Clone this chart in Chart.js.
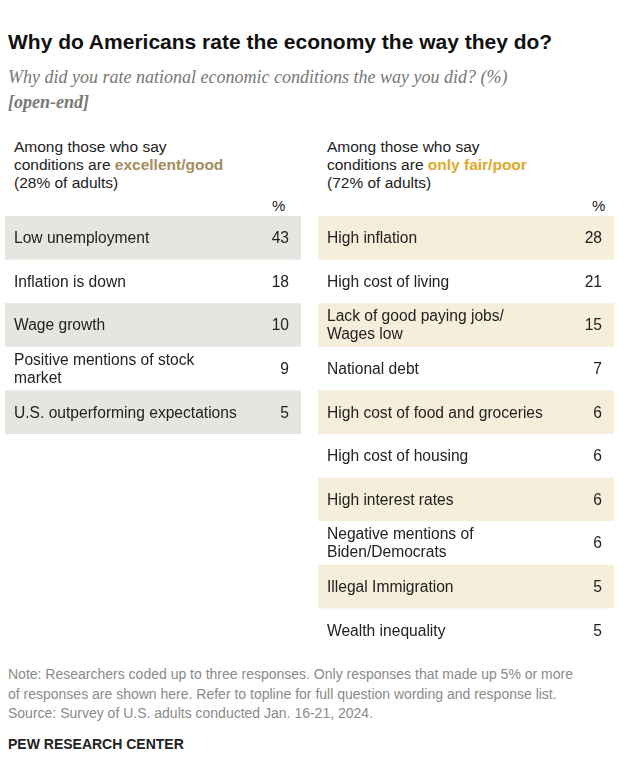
<!DOCTYPE html>
<html><head><meta charset="utf-8">
<script src="https://cdn.jsdelivr.net/npm/chart.js@4"></script>
<style>
body{margin:0;background:#fff;font-family:"Liberation Sans",Arial,sans-serif;color:#222;width:638px;height:768px;position:relative;overflow:hidden}
.a{position:absolute}
#title{left:8px;top:30px;font-size:21px;font-weight:bold;color:#111}
#sub{left:8px;top:65px;font-family:"Liberation Serif",serif;font-style:italic;font-size:18px;color:#777;line-height:25px}
.hd{font-size:15.5px;line-height:18px;color:#222}
.pct{font-size:15px;color:#222}
#note{left:8px;top:665px;font-size:14px;color:#8a8a8a;line-height:19.5px}
#pew{left:8px;top:736px;font-size:14px;font-weight:bold;color:#222}
</style></head><body>
<div class="a" id="title">Why do Americans rate the economy the way they do?</div>
<div class="a" id="sub">Why did you rate national economic conditions the way you did? (%)<br><b>[open-end]</b></div>
<div class="a hd" style="left:14px;top:138px">Among those who say<br>conditions are <b style="color:#a38c5e">excellent/good</b><br>(28% of adults)</div>
<div class="a hd" style="left:327px;top:138px">Among those who say<br>conditions are <b style="color:#dca92b">only fair/poor</b><br>(72% of adults)</div>
<div class="a pct" style="left:272px;top:197px">%</div>
<div class="a pct" style="left:592px;top:197px">%</div>
<div class="a" style="left:5px;top:216px;width:296px;height:218px"><canvas id="left"></canvas></div>
<div class="a" style="left:318px;top:216px;width:296px;height:436px"><canvas id="right"></canvas></div>
<div class="a" id="note">Note: Researchers coded up to three responses. Only responses that made up 5% or more<br>of responses are shown here. Refer to topline for full question wording and response list.<br>Source: Survey of U.S. adults conducted Jan. 16-21, 2024.</div>
<div class="a" id="pew">PEW RESEARCH CENTER</div>
<script>
const goodLabels = ["Low unemployment", "Inflation is down", "Wage growth", ["Positive mentions of stock", "market"], "U.S. outperforming expectations"];
const goodValues = [43, 18, 10, 9, 5];
const poorLabels = ["High inflation", "High cost of living", ["Lack of good paying jobs/", "Wages low"], "National debt", "High cost of food and groceries", "High cost of housing", "High interest rates", ["Negative mentions of", "Biden/Democrats"], "Illegal Immigration", "Wealth inequality"];
const poorValues = [28, 21, 15, 7, 6, 6, 6, 6, 5, 5];

const tablePlugin = {
  id: "tableRows",
  beforeDatasetsDraw(chart, args, opts) {
    const { ctx, chartArea: a, scales: { y } } = chart;
    const n = chart.data.labels.length;
    const h = (a.bottom - a.top) / n;
    ctx.save();
    chart.data.labels.forEach((lab, i) => {
      const cy = y.getPixelForValue(i);
      if (i % 2 === 0) {
        ctx.fillStyle = opts.band;
        ctx.fillRect(a.left, cy - h / 2, a.right - a.left, h);
      }
      ctx.fillStyle = "#222";
      ctx.font = "15.6px 'Liberation Sans', Arial, sans-serif";
      ctx.textBaseline = "middle";
      const lines = Array.isArray(lab) ? lab : [lab];
      lines.forEach((t, k) => {
        ctx.textAlign = "left";
        ctx.fillText(t, a.left + 9, cy + 1 + (k - (lines.length - 1) / 2) * 18);
      });
      ctx.textAlign = "right";
      ctx.fillText(String(chart.data.datasets[0].data[i]), a.right - 12, cy + 1);
    });
    ctx.restore();
  }
};

function makeTable(id, labels, values, band) {
  new Chart(document.getElementById(id), {
    type: "bar",
    data: { labels, datasets: [{ data: values, backgroundColor: "rgba(0,0,0,0)" }] },
    options: {
      indexAxis: "y", responsive: true, maintainAspectRatio: false, animation: false,
      layout: { padding: 0 },
      scales: { x: { display: false, min: 0, max: 50 }, y: { display: false } },
      plugins: { legend: { display: false }, tooltip: { enabled: false }, tableRows: { band } }
    },
    plugins: [tablePlugin]
  });
}
makeTable("left", goodLabels, goodValues, "#e7e5df");
makeTable("right", poorLabels, poorValues, "#f6edda");
</script></body></html>
